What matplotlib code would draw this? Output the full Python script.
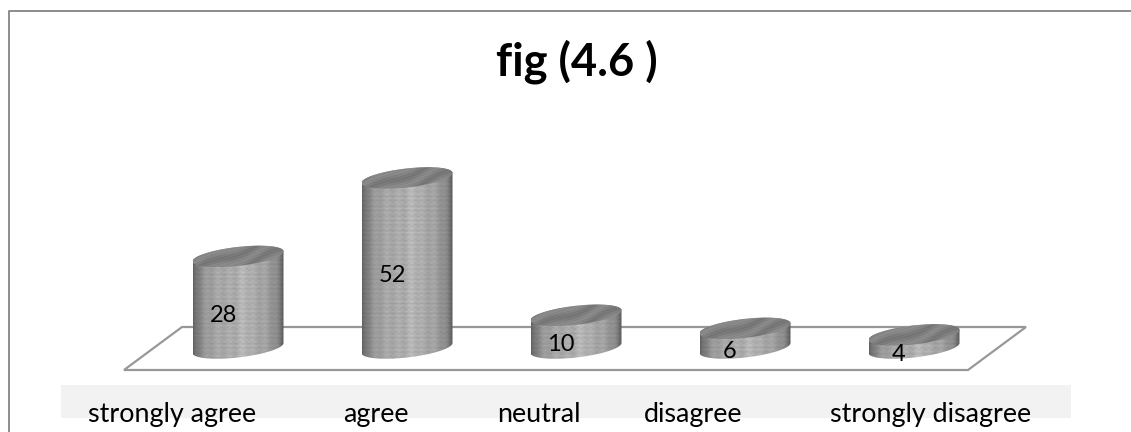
import matplotlib
matplotlib.use('Agg')
import matplotlib.pyplot as plt
import numpy as np
from matplotlib.patches import Polygon, Rectangle

plt.rcParams['font.family'] = ['Lato', 'DejaVu Sans']

categories = ['strongly agree', 'agree', 'neutral', 'disagree', 'strongly disagree']
values = [28, 52, 10, 6, 4]
title = 'fig (4.6 )'

W, H = 1131, 432
X0, X_STEP = 238, 169     # pixel of first category, pixels per category
Y0, Y_UNIT = 348, 3.27    # pixel of value 0, pixels per unit
RX = 45.5 / X_STEP        # cylinder radius in category units
RY = 9.5 / Y_UNIT         # ellipse half height in value units
TILT = 5.0 / Y_UNIT       # right side of ellipse sits higher than left

fig = plt.figure(figsize=(W / 100, H / 100), dpi=100, facecolor='white')

# decoration layer in pixel coordinates
bg = fig.add_axes([0, 0, 1, 1])
bg.set_xlim(0, W)
bg.set_ylim(H, 0)
bg.axis('off')
bg.plot([9, 9, W], [H, 11, 11], color='#8c8c8c', lw=1.4)
bg.add_patch(Rectangle((61, 385), 1010, 33, fc='#f2f2f2', ec='none'))
bg.add_patch(Polygon([(182, 327), (1026, 327), (968, 370), (124, 370)],
                     closed=True, fc='none', ec='#989898', lw=1.6))

# chart layer: x = category index, y = value
ax = fig.add_axes([0, 0, 1, 1])
ax.patch.set_alpha(0)
ax.axis('off')


def ellipse(xc, y, t):
    return xc + RX * np.cos(t), y + RY * np.sin(t) + TILT * np.cos(t)


def side_texture(nrows):
    u = np.linspace(-1, 1, 182)
    v = np.arange(nrows)[:, None]
    shade = 120 + 50 * (1 - np.abs(u) ** 3.2) + 12 * np.exp(-((u - 0.12) / 0.14) ** 2)
    shade = shade + 5 * np.sin(u * 24) - 28 * np.abs(u) ** 10
    ripple = 10 * np.sin(v * 2.6 + 0.8 * np.sin(u * 45)) * (1 - 0.5 * np.abs(u))
    return shade[None, :] + ripple


def top_texture():
    u, v = np.meshgrid(np.linspace(0, 1, 182), np.linspace(0, 1, 50))
    d = u * 5 + v * 3
    return 128 + 10 * np.sin(d * 3.1 + 1.2 * np.sin(u * 9)) + 6 * np.sin(d * 13 + v * 9)


def draw_cylinder(i, value):
    t = np.linspace(0, 2 * np.pi, 120)
    low = np.linspace(np.pi, 2 * np.pi, 60)
    bx, by = ellipse(i, 0, low)
    tx, ty = ellipse(i, value, low - np.pi)
    body = Polygon(np.column_stack([np.r_[bx, tx], np.r_[by, ty]]), closed=True,
                   transform=ax.transData, fc='none', ec='none')
    ax.add_patch(body)
    y_low, y_high = by.min(), ty.max()
    nrows = max(int((y_high - y_low) * Y_UNIT / 2), 4)
    im = ax.imshow(side_texture(nrows), cmap='gray', vmin=0, vmax=255, aspect='auto',
                   interpolation='bilinear', zorder=2,
                   extent=(i - RX, i + RX, y_low, y_high))
    im.set_clip_path(body)

    cx, cy = ellipse(i, value, t)
    cap = Polygon(np.column_stack([cx, cy]), closed=True, transform=ax.transData,
                  fc='none', ec='none')
    ax.add_patch(cap)
    im2 = ax.imshow(top_texture(), cmap='gray', vmin=0, vmax=255, aspect='auto',
                    interpolation='bilinear', zorder=3,
                    extent=(i - RX, i + RX, cy.min(), cy.max()))
    im2.set_clip_path(cap)


for i, v in enumerate(values):
    draw_cylinder(i, v)
    ax.text(i - 15 / X_STEP, v / 2 - 13 / Y_UNIT, str(v), ha='center', va='center',
            fontsize=17, color='black', zorder=5)

ax.set_xlim(-X0 / X_STEP, (W - X0) / X_STEP)
ax.set_ylim((Y0 - H) / Y_UNIT, Y0 / Y_UNIT)

label_x = [172, 376, 539, 693, 931]
for name, lx in zip(categories, label_x):
    bg.text(lx, 422, name, ha='center', va='baseline', fontsize=19.4, color='black')
bg.text(576.5, 75, title, ha='center', va='baseline', fontsize=32.6, fontweight='bold', color='black')

fig.savefig('out.png', dpi=100)
